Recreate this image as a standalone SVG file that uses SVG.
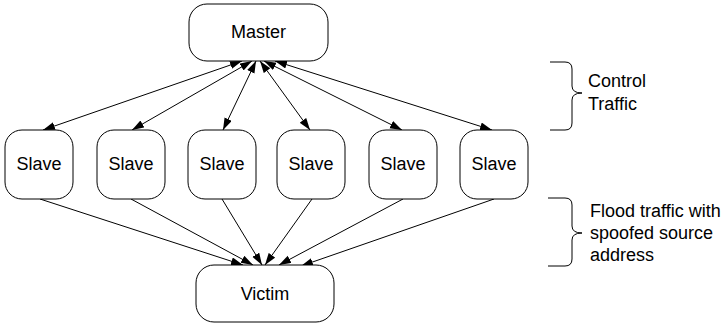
<svg xmlns="http://www.w3.org/2000/svg" width="722" height="324" viewBox="0 0 722 324">
<defs>
<marker id="ah" markerUnits="userSpaceOnUse" markerWidth="13" markerHeight="9" refX="12" refY="4" orient="auto-start-reverse">
<path d="M0,0 L12,4 L0,8 z" fill="#000"/>
</marker>
<style>
.box{fill:#fff;stroke:#000;stroke-width:1}
.lbl{font-family:"Liberation Sans",Arial,sans-serif;font-size:18px;fill:#000}
.c{text-anchor:middle}
.ln{stroke:#000;stroke-width:1;fill:none}
.br{stroke:#000;stroke-width:1;fill:none}
</style>
</defs>
<rect width="722" height="324" fill="#fff"/>
<g id="connectors">
<line class="ln" x1="43" y1="130" x2="242" y2="61" marker-start="url(#ah)" marker-end="url(#ah)"/>
<line class="ln" x1="132" y1="130" x2="252" y2="61" marker-start="url(#ah)" marker-end="url(#ah)"/>
<line class="ln" x1="223" y1="130" x2="256" y2="61" marker-start="url(#ah)" marker-end="url(#ah)"/>
<line class="ln" x1="310" y1="130" x2="260" y2="61" marker-start="url(#ah)" marker-end="url(#ah)"/>
<line class="ln" x1="402" y1="130" x2="264" y2="61" marker-start="url(#ah)" marker-end="url(#ah)"/>
<line class="ln" x1="492" y1="130" x2="275" y2="61" marker-start="url(#ah)" marker-end="url(#ah)"/>
<line class="ln" x1="40" y1="199" x2="243" y2="265" marker-end="url(#ah)"/>
<line class="ln" x1="131" y1="199" x2="253" y2="265" marker-end="url(#ah)"/>
<line class="ln" x1="222" y1="199" x2="262" y2="265" marker-end="url(#ah)"/>
<line class="ln" x1="312" y1="199" x2="265" y2="265" marker-end="url(#ah)"/>
<line class="ln" x1="403" y1="199" x2="279" y2="265" marker-end="url(#ah)"/>
<line class="ln" x1="494" y1="199" x2="301" y2="266" marker-end="url(#ah)"/>
</g>
<g id="master"><rect class="box" x="189" y="4" width="139" height="57" rx="18"/><text class="lbl c" x="258.5" y="38">Master</text></g>
<g id="slave1"><rect class="box" x="5" y="130" width="68" height="69" rx="17"/><text class="lbl c" x="39" y="170">Slave</text></g>
<g id="slave2"><rect class="box" x="97" y="130" width="68" height="69" rx="17"/><text class="lbl c" x="131" y="170">Slave</text></g>
<g id="slave3"><rect class="box" x="188" y="130" width="68" height="69" rx="17"/><text class="lbl c" x="222" y="170">Slave</text></g>
<g id="slave4"><rect class="box" x="277" y="130" width="68" height="69" rx="17"/><text class="lbl c" x="311" y="170">Slave</text></g>
<g id="slave5"><rect class="box" x="369" y="130" width="68" height="69" rx="17"/><text class="lbl c" x="403" y="170">Slave</text></g>
<g id="slave6"><rect class="box" x="460" y="130" width="68" height="69" rx="17"/><text class="lbl c" x="494" y="170">Slave</text></g>
<g id="victim"><rect class="box" x="196" y="265" width="138" height="57" rx="18"/><text class="lbl c" x="265" y="300">Victim</text></g>
<g id="control-brace">
<path class="br" d="M550,62 H565 Q572,62 572,69 V86 Q572,93 582,93 Q572,93 572,100 V123 Q572,130 565,130 H550"/>
<text class="lbl" x="588" y="87">Control</text>
<text class="lbl" x="588" y="110">Traffic</text>
</g>
<g id="flood-brace">
<path class="br" d="M548,198 H565 Q572,198 572,205 V226 Q572,233 582,233 Q572,233 572,240 V259 Q572,266 565,266 H548"/>
<text class="lbl" x="590" y="217">Flood traffic with</text>
<text class="lbl" x="590" y="239">spoofed source</text>
<text class="lbl" x="590" y="261">address</text>
</g>
</svg>
